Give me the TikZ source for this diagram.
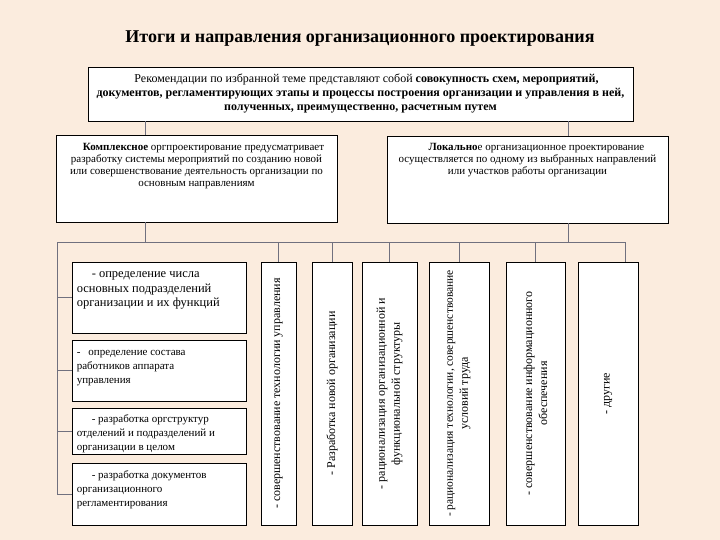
\documentclass[tikz,border=0pt]{standalone}
\usepackage{fontspec}
\setmainfont{Liberation Serif}
\usetikzlibrary{positioning}
\definecolor{orgbg}{RGB}{251,236,222}
\definecolor{orgline}{RGB}{112,112,126}
\begin{document}
\begin{tikzpicture}[
        x=1pt, y=-1pt,
        font=\fontsize{11}{12}\selectfont,
        org box/.style  ={draw=black, fill=white, line width=0.9pt, inner sep=0pt},
        org txt/.style  ={align=center, inner sep=0pt},
        org item/.style ={align=left, inner sep=0pt, anchor=north west, font=\fontsize{11}{14}\selectfont},
        org vert/.style ={align=center, inner sep=0pt, rotate=90, font=\fontsize{12}{15}\selectfont},
        org conn/.style ={draw=orgline, line width=0.7pt}
    ]
    \useasboundingbox[fill=orgbg] (0,0) rectangle (720,540);
    %% --- title and the top box -------------------------------------------
    \node[org txt, font=\fontsize{18}{20}\selectfont\bfseries] (title) at (360,39)
        {Итоги и направления организационного проектирования};
    \node[org box, org txt, minimum width=545pt, minimum height=54pt,
          font=\fontsize{12}{14}\selectfont] (reco) at (360.5,94) {%
        \hspace*{12pt}Рекомендации по избранной теме представляют собой \textbf{совокупность схем, мероприятий,}\\
        \textbf{документов, регламентирующих этапы и процессы построения организации и управления в ней,}\\
        \textbf{полученных, преимущественно, расчетным путем}};
    %% --- the two kinds of design -----------------------------------------
    \node[org box, minimum width=281pt, minimum height=87pt] (kompl) at (196.5,178.5) {};
    \node[org txt, below=9pt of kompl.north] (kompl txt) {%
        \hspace*{14pt}\textbf{Комплексное} оргпроектирование предусматривает\\
        разработку системы мероприятий по созданию новой\\
        или совершенствование деятельность организации по\\
        основным направлениям};
    \node[org box, minimum width=281pt, minimum height=87pt] (lokal) at (527.5,179.5) {};
    \node[org txt, below=8pt of lokal.north] (lokal txt) {%
        \hspace*{18pt}\textbf{Локально}е организационное проектирование\\
        осуществляется по одному из выбранных направлений\\
        или участков работы организации};
    %% --- left column: steps of complex design ----------------------------
    \foreach \n/\cy/\h in {1/297.5/71, 2/370.5/61, 3/431/46, 4/494/62} {
            \node[org box, minimum width=174pt, minimum height=\h pt] (sub\n) at (159,\cy) {};
        }
    \node[org item, font=\fontsize{12.5}{14.5}\selectfont] (sub1 txt) at ([xshift=5pt,yshift=-10pt]sub1.north west)
        {\hspace*{15pt}- определение числа\\основных подразделений\\организации и их функций};
    \node[org item] (sub2 txt) at ([xshift=5pt,yshift=-11pt]sub2.north west)
        {-\hspace{8pt}определение состава\\работников аппарата\\управления};
    \node[org item] (sub3 txt) at ([xshift=5pt,yshift=-7pt]sub3.north west)
        {\hspace*{15pt}- разработка оргструктур\\отделений и подразделений и\\организации в целом};
    \node[org item] (sub4 txt) at ([xshift=5pt,yshift=-8pt]sub4.north west)
        {\hspace*{15pt}- разработка документов\\организационного\\регламентирования};
    %% --- upright boxes: directions of local design -----------------------
    \foreach \n/\cx/\w/\t in {
            A/278.5/35/{- совершенствование технологии управления},
            B/332/40/{- Разработка новой организации},
            C/389.5/55/{- рационализация организационной и\\функциональной структуры},
            D/459/60/{\fontsize{11.5}{15}\selectfont - рационализация технологии, совершенствование\\условий труда},
            E/535.5/59/{- совершенствование информационного\\обеспечения},
            F/608/60/{- другие}} {
            \node[org box, minimum width=\w pt, minimum height=263pt] (v\n) at (\cx,393.5) {};
            \node[org vert] (v\n txt) at (v\n) {\t};
        }
    %% --- connectors -------------------------------------------------------
    \coordinate (kN) at ([xshift=-51.5pt]kompl.north);
    \coordinate (kS) at ([xshift=-51.5pt]kompl.south);
    \coordinate (lN) at ([xshift=40.5pt]lokal.north);
    \coordinate (lS) at ([xshift=40.5pt]lokal.south);
    \coordinate (busL) at (57,242);
    \coordinate (busR) at (625,242);
    \draw[org conn] (kN) -- (kN |- reco.south);
    \draw[org conn] (lN) -- (lN |- reco.south);
    \draw[org conn] (kS) -- (kS |- busL);
    \draw[org conn] (lS) -- (lS |- busL);
    \draw[org conn] (busL) -- (busR);
    \foreach \n in {1,...,4} {
            \draw[org conn] (busL) |- (sub\n.west);
        }
    \foreach \n in {A,B,C,D,E} {
            \draw[org conn] (v\n.north) -- (v\n.north |- busL);
        }
    \draw[org conn] ([xshift=17pt]vF.north) -- (busR);
\end{tikzpicture}
\end{document}
